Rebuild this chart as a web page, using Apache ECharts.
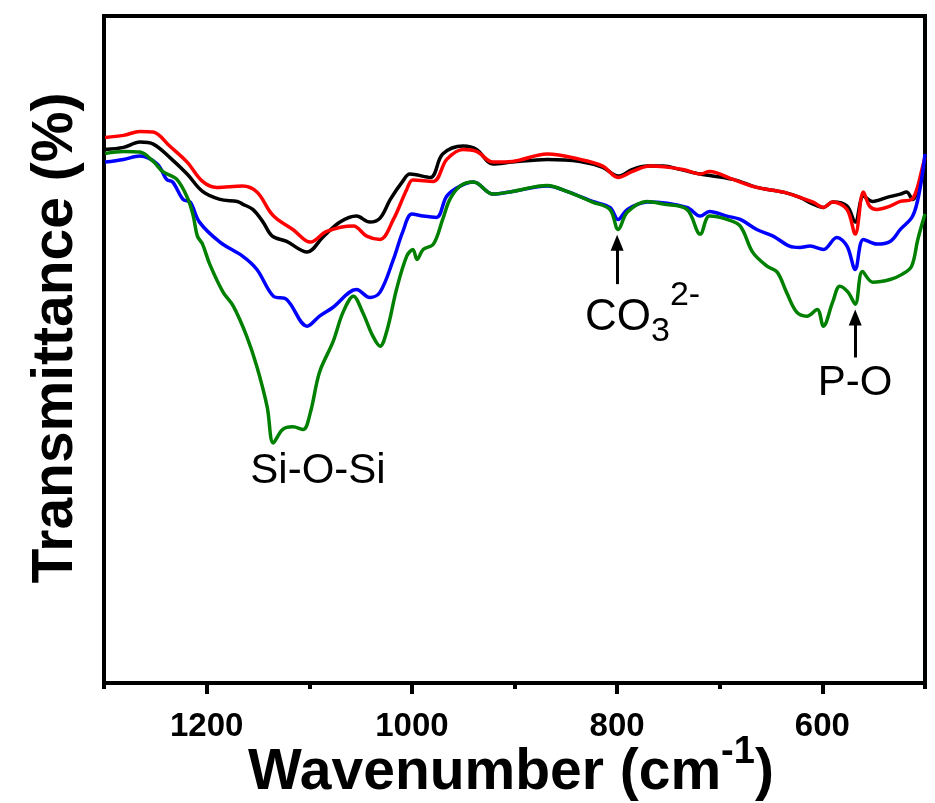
<!DOCTYPE html>
<html>
<head>
<meta charset="utf-8">
<script src="https://cdn.jsdelivr.net/npm/echarts@6/dist/echarts.min.js"></script>
<style>
  html, body { margin: 0; padding: 0; background: #ffffff; }
  #chart { width: 935px; height: 803px; }
</style>
</head>
<body>
<div id="chart"></div>
<script>
// FTIR spectra of four samples, transmittance in arbitrary units vs wavenumber
const FONT = '"Liberation Sans", Arial, Helvetica, sans-serif';

const majorTicks = [1200, 1000, 800, 600];
const minorTicks = [1300, 1100, 900, 700, 500];

const blackWn = [1299,1281,1265,1252,1236,1219,1204,1187,1170,1165,1155,1145,1136,1122,1102,1087,1070,1054,1041,1031,1021,1009,1002,982,970,950,937,921,902,868,836,814,799,785,771,755,739,719,687,664,638,622,609,599,590,576,568,560,551,537,524,518,512,505,500];
const blackT  = [80.0,80.3,81.1,80.8,78.8,76.3,73.7,72.5,72.2,71.8,71.0,69.1,67.0,66.2,64.6,66.8,69.1,70.0,69.1,69.7,72.5,75.2,76.3,75.8,79.3,80.5,80.0,77.8,78.1,78.5,78.2,77.3,76.0,77.0,77.5,77.5,77.0,76.3,75.5,74.3,73.6,72.8,71.8,71.3,72.1,71.5,69.1,73.0,72.2,72.8,73.3,73.6,72.5,75.1,76.7];

const redWn = [1299,1281,1265,1252,1236,1219,1204,1190,1165,1151,1138,1131,1116,1099,1083,1057,1044,1031,1018,1005,999,979,966,950,937,921,902,868,836,814,799,785,768,736,719,710,687,664,638,622,609,599,590,576,568,560,554,547,534,524,513,508,503,500];
const redT  = [81.8,82.1,82.7,82.6,80.5,78.1,75.2,74.3,74.5,73.6,70.6,69.5,68.0,66.1,67.7,68.5,67.0,66.5,69.5,74.0,75.4,75.2,78.5,80.0,79.7,78.1,78.2,79.3,78.5,77.5,75.8,76.7,77.5,77.0,76.3,76.7,75.5,74.3,73.6,72.8,72.1,71.3,72.1,71.0,67.3,73.6,71.5,71.0,71.5,72.2,72.5,74.0,77.0,78.8];

const blueWn = [1299,1281,1265,1248,1239,1233,1223,1216,1207,1187,1165,1151,1135,1122,1102,1090,1077,1054,1041,1031,1018,1009,1000,989,976,966,953,940,921,902,868,849,824,807,799,790,770,732,719,710,693,680,664,648,632,622,612,599,586,576,568,560,547,534,524,512,505,500];
const blueT  = [78.1,78.5,79.0,77.8,75.5,75.1,72.5,72.1,69.1,66.1,64.0,62.0,58.0,57.5,53.5,55.0,56.3,59.0,57.8,58.6,63.5,67.6,70.3,70.0,69.8,73.0,74.5,75.1,73.3,73.7,74.5,73.7,72.2,71.3,69.5,71.0,72.1,71.3,70.0,70.7,70.0,69.5,68.0,67.0,65.5,65.3,65.5,65.0,66.8,65.5,62.0,66.5,65.8,66.2,68.0,70.0,74.0,79.3];

const greenWn = [1299,1281,1265,1252,1243,1229,1218,1213,1209,1204,1197,1184,1174,1161,1151,1141,1135,1126,1116,1106,1099,1090,1077,1067,1057,1048,1038,1031,1024,1015,1005,999,995,989,979,970,963,953,940,921,902,868,849,824,807,799,790,771,755,732,719,710,693,680,668,654,644,635,625,615,605,599,590,583,575,568,561,551,534,522,513,507,500];
const greenT  = [79.4,79.7,79.6,78.2,76.7,75.5,72.5,70.0,67.0,65.8,62.8,58.6,56.5,52.0,47.4,41.4,36.0,38.0,38.4,38.0,40.5,46.6,51.1,55.6,58.0,55.6,52.0,50.5,53.0,59.0,64.0,65.0,63.5,65.0,65.8,69.5,72.5,74.5,75.1,73.3,73.7,74.6,73.7,72.1,71.0,68.0,70.6,72.2,71.8,71.0,67.3,70.0,69.5,68.5,64.6,62.5,61.6,58.6,55.6,55.0,56.0,53.5,57.1,59.5,58.6,56.8,61.7,60.1,60.5,61.3,62.5,66.5,70.3];

// Band markers: arrow tail and head positions (wavenumber, transmittance)
const carbonateArrow = [[800, 59.8], [800, 66.0]];
const phosphateArrow = [[568, 48.8], [568, 54.8]];

const pairs = (wn, t) => wn.map((w, i) => [w, t[i]]);

function lineSeries(name, color, wn, t, extra) {
  return Object.assign({
    name: name,
    type: 'line',
    data: pairs(wn, t),
    showSymbol: false,
    smooth: 0.35,
    lineStyle: { color: color, width: 3.5 },
    itemStyle: { color: color },
    emphasis: { disabled: true },
    animation: false
  }, extra || {});
}

const chart = echarts.init(document.getElementById('chart'), null, { renderer: 'canvas' });

chart.setOption({
  backgroundColor: '#ffffff',
  animation: false,
  grid: {
    left: 104, right: 10, top: 16, bottom: 120,
    show: true, borderColor: '#000', borderWidth: 4, backgroundColor: 'transparent'
  },
  xAxis: [
    {
      type: 'value', min: 500, max: 1300, interval: 100, inverse: true,
      axisLine: { show: true, lineStyle: { color: '#000', width: 4 } },
      axisTick: { show: true, customValues: majorTicks, length: 11, lineStyle: { color: '#000', width: 4 } },
      axisLabel: {
        show: true, customValues: majorTicks, margin: 27,
        formatter: (v) => String(v),
        color: '#000', fontFamily: FONT, fontWeight: 'bold', fontSize: 33
      },
      splitLine: { show: false }
    },
    {
      type: 'value', min: 500, max: 1300, interval: 100, inverse: true, position: 'bottom',
      axisLine: { show: false },
      axisTick: { show: true, customValues: minorTicks, length: 6, lineStyle: { color: '#000', width: 4 } },
      axisLabel: { show: false },
      splitLine: { show: false }
    }
  ],
  yAxis: {
    type: 'value', min: 0, max: 100,
    axisLine: { show: true, lineStyle: { color: '#000', width: 4 } },
    axisTick: { show: false },
    axisLabel: { show: false },
    splitLine: { show: false }
  },
  series: [
    lineSeries('black', '#000000', blackWn, blackT),
    lineSeries('red', '#ff0000', redWn, redT),
    lineSeries('blue', '#0000ff', blueWn, blueT),
    lineSeries('green', '#008000', greenWn, greenT, {
      markLine: {
        silent: true,
        animation: false,
        symbol: ['none', 'triangle'],
        symbolSize: [13, 16],
        label: { show: false },
        lineStyle: { color: '#000', width: 3, type: 'solid' },
        emphasis: { disabled: true },
        data: [
          [{ coord: carbonateArrow[0] }, { coord: carbonateArrow[1] }],
          [{ coord: phosphateArrow[0] }, { coord: phosphateArrow[1] }]
        ]
      }
    })
  ],
  graphic: [
    {
      type: 'text', x: 56, y: 338, rotation: Math.PI / 2,
      style: {
        text: 'Transmittance (%)', fill: '#000',
        font: 'bold 57px ' + FONT, textAlign: 'center', textVerticalAlign: 'middle'
      }
    },
    {
      type: 'text', x: 511, y: 773,
      style: {
        text: '{a|Wavenumber (cm}{s|-1}{a|)}',
        textAlign: 'center', textVerticalAlign: 'middle',
        rich: {
          a: { fontFamily: FONT, fontWeight: 'bold', fontSize: 57, fill: '#000', color: '#000', lineHeight: 60 },
          s: { fontFamily: FONT, fontWeight: 'bold', fontSize: 38, fill: '#000', color: '#000', lineHeight: 38, padding: [0, 0, 40, 0] }
        }
      }
    },
    {
      type: 'text', x: 318, y: 471,
      style: {
        text: 'Si-O-Si', fill: '#000',
        font: '42px ' + FONT, textAlign: 'center', textVerticalAlign: 'middle'
      }
    },
    {
      type: 'text', x: 855, y: 383,
      style: {
        text: 'P-O', fill: '#000',
        font: '42px ' + FONT, textAlign: 'center', textVerticalAlign: 'middle'
      }
    },
    {
      type: 'text', x: 585, y: 318,
      style: {
        text: '{a|CO}{b|3}{c|2-}',
        textAlign: 'left', textVerticalAlign: 'middle',
        rich: {
          a: { fontFamily: FONT, fontSize: 44, fill: '#000', color: '#000', lineHeight: 44 },
          b: { fontFamily: FONT, fontSize: 34, fill: '#000', color: '#000', lineHeight: 34, padding: [28, 0, 0, 0] },
          c: { fontFamily: FONT, fontSize: 34, fill: '#000', color: '#000', lineHeight: 34, padding: [0, 0, 44, 0] }
        }
      }
    }
  ]
});
</script>
</body>
</html>
